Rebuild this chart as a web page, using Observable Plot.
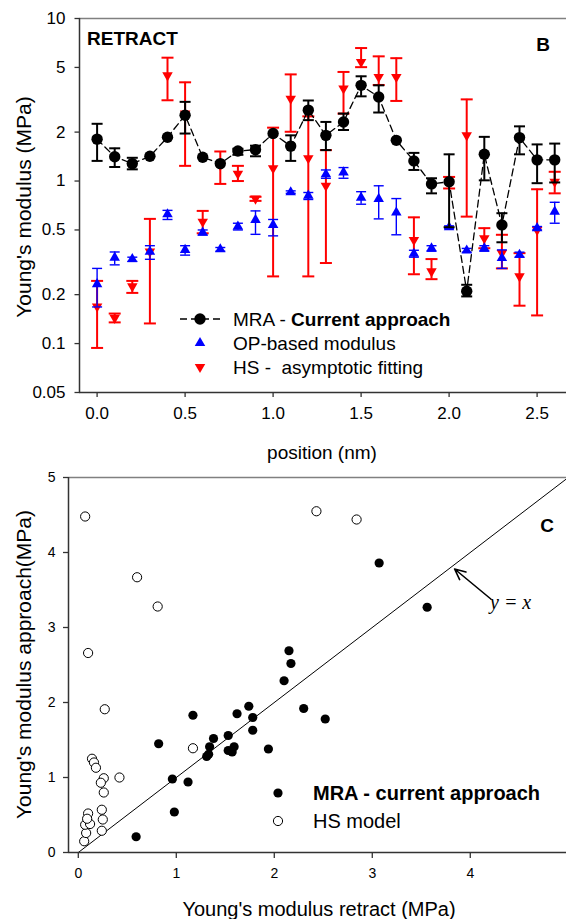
<!DOCTYPE html>
<html><head><meta charset="utf-8">
<script src="https://cdn.jsdelivr.net/npm/d3@7"></script>
<script src="https://cdn.jsdelivr.net/npm/@observablehq/plot@0.6"></script>
<style>
body{margin:0;background:#fff;}
#wrap{position:relative;width:566px;height:919px;overflow:hidden;}
#wrap svg{display:block;}
</style></head><body><div id="wrap"></div>
<script>
// ---------- Panel B data (log scale, retract) ----------
const positions = [0.0,0.1,0.2,0.3,0.4,0.5,0.6,0.7,0.8,0.9,1.0,1.1,1.2,1.3,1.4,1.5,1.6,1.7,1.8,1.9,2.0,2.1,2.2,2.3,2.4,2.5,2.6];
const mraValues = [1.81,1.41,1.28,1.42,1.86,2.54,1.40,1.28,1.53,1.56,1.96,1.64,2.73,1.91,2.31,3.88,3.29,1.78,1.33,0.96,0.99,0.21,1.46,0.537,1.85,1.35,1.35];
const mraLow    = [1.33,1.22,1.18,null,null,1.96,null,null,1.45,1.42,null,1.33,2.37,1.55,2.06,3.32,2.64,null,1.17,0.84,0.52,0.195,1.01,0.42,1.46,0.97,0.98];
const mraHigh   = [2.25,1.59,1.39,null,null,3.07,null,null,1.58,1.65,null,1.91,3.13,2.31,2.60,4.41,3.88,null,1.49,1.04,1.46,0.23,1.87,0.634,2.17,1.68,1.70];
const opValues  = [0.232,0.338,0.331,0.368,0.625,0.377,0.482,0.38,0.525,0.577,0.537,0.853,0.813,1.10,1.13,0.79,0.777,0.64,0.357,0.386,0.52,0.374,0.386,0.336,0.352,0.513,0.648];
const opLow     = [0.168,0.305,0.32,0.33,0.58,0.35,0.465,0.37,0.50,0.47,0.46,0.84,0.77,1.04,1.04,0.72,0.585,0.467,0.34,0.37,0.51,0.365,0.37,0.29,0.34,0.50,0.55];
const opHigh    = [0.29,0.366,0.34,0.40,0.66,0.40,0.50,0.39,0.55,0.655,0.58,0.87,0.85,1.17,1.21,0.86,0.935,0.78,0.375,0.40,0.53,0.385,0.40,0.377,0.365,0.525,0.74];
const hsValues  = [0.169,0.144,0.225,0.368,4.47,2.6,0.562,1.25,1.11,0.78,1.20,3.21,1.38,0.935,3.71,5.4,4.37,4.37,0.434,0.278,0.98,1.91,0.445,0.36,0.259,0.50,0.99];
const hsLow     = [0.094,0.135,0.205,0.133,3.14,1.24,0.477,0.96,1.0,0.755,0.259,2.01,0.259,0.313,2.6,5.02,3.9,3.11,0.267,0.249,0.90,0.604,0.386,0.29,0.171,0.149,0.84];
const hsHigh    = [0.243,0.153,0.243,0.585,5.74,4.05,0.655,1.52,1.24,0.80,2.13,4.53,2.5,1.55,4.69,6.58,5.85,5.7,0.598,0.331,1.06,3.18,0.513,0.467,0.36,0.89,1.14];
const xTicksB = [0,0.5,1,1.5,2,2.5];
const yTicksB = [0.05,0.1,0.2,0.5,1,2,5,10];

// ---------- Panel C data (approach vs retract) ----------
const mraRetract = [0.59,0.82,0.96,0.98,1.12,1.17,1.31,1.33,1.34,1.38,1.53,1.53,1.57,1.59,1.62,1.74,1.78,1.78,1.94,2.10,2.15,2.17,2.30,2.52,3.07,3.56];
const mraApproach = [0.21,1.45,0.98,0.54,0.94,1.83,1.28,1.31,1.41,1.52,1.56,1.36,1.34,1.41,1.85,1.95,1.80,1.63,1.38,2.29,2.69,2.52,1.92,1.78,3.86,3.27];
const hsRetract = [0.07,0.60,0.81,0.10,0.27,0.14,0.16,0.18,0.26,0.23,0.42,0.26,0.24,0.25,0.24,0.06,0.08,0.07,0.10,0.12,0.09,1.17,2.43,2.84];
const hsApproach = [4.48,3.67,3.28,2.66,1.91,1.25,1.20,1.13,0.99,0.93,1.00,0.80,0.57,0.44,0.29,0.15,0.26,0.37,0.52,0.38,0.45,1.39,4.55,4.44];
const xTicksC = [0,1,2,3,4];
const yTicksC = [0,1,2,3,4,5];
const identityLine = [0,5];
const arrowNote = [{x1:4.21,y1:3.38,x2:3.84,y2:3.78}];

const FONT = '"Liberation Sans", Arial, Helvetica, sans-serif';
const RED = "#ff0000", BLUE = "#0000ff", AX = "#333";

const capSymbol = {draw(ctx, size){ const w = Math.sqrt(size/Math.PI); ctx.moveTo(-w,0); ctx.lineTo(w,0); }};
const leftTick = {draw(ctx, size){ const w = Math.sqrt(size/Math.PI); ctx.moveTo(-w,0); ctx.lineTo(0,0); }};
const triDown = {draw(ctx, size){ const y = Math.sqrt(size/(3*Math.sqrt(3))); const s = Math.sqrt(3); ctx.moveTo(0,2*y); ctx.lineTo(s*y,-y); ctx.lineTo(-s*y,-y); ctx.closePath(); }};

const rows = positions.map((p,i)=>({p, mra:mraValues[i], mraLo:mraLow[i], mraHi:mraHigh[i],
  op:opValues[i], opLo:opLow[i], opHi:opHigh[i], hs:hsValues[i], hsLo:hsLow[i], hsHi:hsHigh[i]}));
const mraErr = rows.filter(d=>d.mraLo!=null);

function errMarks(data, lo, hi, color, sw, capR){
  return [
    Plot.ruleX(data, {x:"p", y1:lo, y2:hi, stroke:color, strokeWidth:sw}),
    Plot.dot(data, {x:"p", y:lo, symbol:capSymbol, r:capR, stroke:color, strokeWidth:sw, fill:"none"}),
    Plot.dot(data, {x:"p", y:hi, symbol:capSymbol, r:capR, stroke:color, strokeWidth:sw, fill:"none"})
  ];
}
const xMinB = -0.1;

const plotB = Plot.plot({
  width:566, height:465, marginTop:18, marginBottom:73, marginLeft:79, marginRight:0,
  style:{fontFamily:FONT, color:"#000", background:"transparent", overflow:"visible"},
  x:{domain:[xMinB, 2.667]},
  y:{type:"log", domain:[0.05,10], axis:null},
  marks:[
    Plot.ruleY([10], {stroke:"#808080", strokeWidth:1.3}),
    Plot.axisX({ticks:xTicksB, tickFormat:d=>d.toFixed(1), tickSize:5, tickPadding:9, fontSize:17, label:null, stroke:AX, strokeWidth:1.3}),
    Plot.dot(yTicksB, {x:()=>xMinB, y:d=>d, symbol:leftTick, r:5, stroke:AX, strokeWidth:1.3, fill:"none"}),
    Plot.text(yTicksB, {x:()=>xMinB, y:d=>d, text:d=>String(d), textAnchor:"end", dx:-14, fontSize:17, fill:"#000"}),
    ...errMarks(rows, "hsLo", "hsHi", RED, 2, 6),
    Plot.dot(rows, {x:"p", y:"hs", symbol:triDown, r:3.9, fill:RED}),
    ...errMarks(rows, "opLo", "opHi", BLUE, 1.4, 5),
    Plot.dot(rows, {x:"p", y:"op", symbol:"triangle", r:3.9, fill:BLUE}),
    Plot.line(rows, {x:"p", y:"mra", stroke:"#000", strokeWidth:1.3, strokeDasharray:"7,4"}),
    ...errMarks(mraErr, "mraLo", "mraHi", "#000", 2, 5.5),
    Plot.dot(rows, {x:"p", y:"mra", r:5.7, fill:"#000"}),
    Plot.ruleX([xMinB], {stroke:AX, strokeWidth:1.5}),
    Plot.ruleY([0.05], {stroke:AX, strokeWidth:1.5})
  ]
});

const mraPts = mraRetract.map((x,i)=>({x, y:mraApproach[i]}));
const hsPts = hsRetract.map((x,i)=>({x, y:hsApproach[i]}));

const plotC = Plot.plot({
  width:566, height:454, marginTop:12, marginBottom:67, marginLeft:68, marginRight:0,
  style:{fontFamily:FONT, color:"#000", background:"transparent", overflow:"visible"},
  x:{domain:[-0.1, 4.982]},
  y:{domain:[0,5]},
  marks:[
    Plot.ruleY([5], {stroke:"#808080", strokeWidth:1.3}),
    Plot.axisX({ticks:xTicksC, tickFormat:d=>String(d), tickSize:6, tickPadding:10, fontSize:14, label:null, stroke:AX, strokeWidth:1.3}),
    Plot.axisY({ticks:yTicksC, tickFormat:d=>String(d), tickSize:5, tickPadding:8, fontSize:14, label:null, stroke:AX, strokeWidth:1.3}),
    Plot.line(identityLine, {x:d=>d, y:d=>d, stroke:"#000", strokeWidth:1, clip:true}),
    Plot.dot(hsPts, {x:"x", y:"y", r:4.6, stroke:"#000", strokeWidth:1, fill:"#fff"}),
    Plot.dot(mraPts, {x:"x", y:"y", r:4.6, fill:"#000"}),
    Plot.arrow(arrowNote, {x1:"x1", y1:"y1", x2:"x2", y2:"y2", stroke:"#000", strokeWidth:1.6, headLength:11, headAngle:50}),
    Plot.ruleX([-0.1], {stroke:AX, strokeWidth:1.5}),
    Plot.ruleY([0], {stroke:AX, strokeWidth:1.5})
  ]
});

const wrap = document.getElementById("wrap");
wrap.appendChild(plotB);
wrap.appendChild(plotC);

// ---------- annotations & legends ----------
function txt(g, s, x, y, opts={}){
  const t = g.append("text").attr("x",x).attr("y",y).attr("font-family",opts.family||FONT)
    .attr("font-size",opts.size||19).attr("fill","#000").style("white-space","pre")
    .attr("text-anchor", opts.anchor||"start");
  if(opts.weight) t.attr("font-weight",opts.weight);
  if(opts.style) t.attr("font-style",opts.style);
  if(opts.rotate) t.attr("transform",`rotate(${opts.rotate},${x},${y})`);
  t.text(s);
  return t;
}
const gB = d3.select(plotB).append("g");
txt(gB, "RETRACT", 87, 45, {weight:"bold", size:19});
txt(gB, "B", 543, 51, {weight:"bold", size:19, anchor:"middle"});
txt(gB, "Young's modulus (MPa)", 30.5, 207, {size:21, anchor:"middle", rotate:-90});
txt(gB, "position (nm)", 322, 459, {size:19, anchor:"middle"});
// legend B
gB.append("line").attr("x1",180).attr("x2",224).attr("y1",319).attr("y2",319)
  .attr("stroke","#000").attr("stroke-width",1.3).attr("stroke-dasharray","7,4");
gB.append("circle").attr("cx",200).attr("cy",319).attr("r",5.7).attr("fill","#000");
gB.append("path").attr("d", d3.symbol(d3.symbolTriangle, Math.PI*3.9*3.9)()).attr("transform","translate(200,343)").attr("fill",BLUE);
gB.append("path").attr("d", d3.symbol(triDown, Math.PI*3.9*3.9)()).attr("transform","translate(200,367)").attr("fill",RED);
const l1 = txt(gB, "", 233, 326, {size:19});
l1.append("tspan").text("MRA - ");
l1.append("tspan").attr("font-weight","bold").text("Current approach");
txt(gB, "OP-based modulus", 233, 350, {size:19});
txt(gB, "HS -  asymptotic fitting", 233, 374, {size:19});

const gC = d3.select(plotC).append("g");
txt(gC, "C", 547, 532-465, {weight:"bold", size:19, anchor:"middle"});
txt(gC, "y = x", 490, 609-465, {size:20, style:"italic", family:'"Liberation Serif", "Times New Roman", serif'});
txt(gC, "Young's modulus approach(MPa)", 31, 664.5-465, {size:21, anchor:"middle", rotate:-90});
txt(gC, "Young's modulus retract (MPa)", 319, 916-465, {size:20, anchor:"middle"});
gC.append("circle").attr("cx",278).attr("cy",793-465).attr("r",4.6).attr("fill","#000");
gC.append("circle").attr("cx",278).attr("cy",821-465).attr("r",4.6).attr("fill","#fff").attr("stroke","#000");
txt(gC, "MRA - current approach", 313, 800-465, {size:20, weight:"bold"});
txt(gC, "HS model", 313, 828-465, {size:20});
</script></body></html>
